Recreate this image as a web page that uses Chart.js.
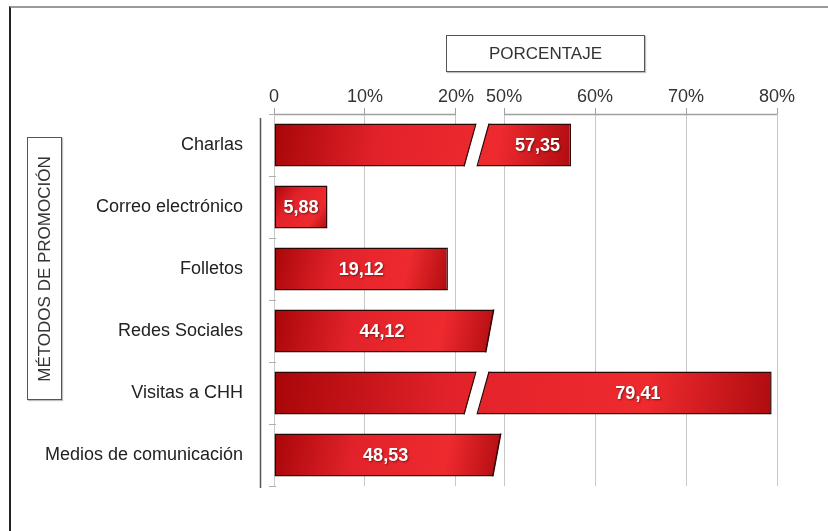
<!DOCTYPE html>
<html>
<head>
<meta charset="utf-8">
<script src="https://cdn.jsdelivr.net/npm/chart.js@4/dist/chart.umd.min.js"></script>
<style>
    html, body { margin: 0; padding: 0; background: #fff; }
    #wrap { position: relative; width: 828px; height: 531px; overflow: hidden; font-family: "Liberation Sans", Arial, sans-serif; }
    #frame { position: absolute; left: 9px; top: 6px; right: 0; bottom: 0; border-top: 2px solid #9a9a9a; border-left: 2px solid #222; }
    canvas { position: absolute; left: 0; top: 0; }
    .box { position: absolute; border: 1.5px solid #555; background: #fff; color: #333; font-size: 17px; box-shadow: 1px 1px 1px rgba(0,0,0,0.25); }
    #xtitle { left: 446px; top: 35px; width: 197px; height: 35px; line-height: 35px; text-align: center; }
    #ytitle { left: 27px; top: 137px; width: 33px; height: 261px; }
    #ytitle span { position: absolute; left: 50%; top: 50%; transform: translate(-50%, -50%) rotate(-90deg); white-space: nowrap; }
</style>
</head>
<body>
<div id="wrap">
    <div id="frame"></div>
    <canvas id="chart" width="828" height="531"></canvas>
    <div class="box" id="xtitle">PORCENTAJE</div>
    <div class="box" id="ytitle"><span>MÉTODOS DE PROMOCIÓN</span></div>
</div>
<script>
const categories = ["Charlas", "Correo electrónico", "Folletos", "Redes Sociales", "Visitas a CHH", "Medios de comunicación"];
const porcentajes = [57.35, 5.88, 19.12, 44.12, 79.41, 48.53];
const tickValues = [0, 10, 20, 50, 60, 70, 80];

// broken axis: 20..50 squeezed into a short gap
const BREAK_LO = 20;
const BREAK_HI = 50;
const GAP_UNITS = 5.3;

function toVirtual(v) {
    if (v <= BREAK_LO) return v;
    if (v <= BREAK_HI) return BREAK_LO + (v - BREAK_LO) * GAP_UNITS / (BREAK_HI - BREAK_LO);
    return BREAK_LO + GAP_UNITS + (v - BREAK_HI);
}
function fromVirtual(u) {
    if (u <= BREAK_LO) return u;
    if (u <= BREAK_LO + GAP_UNITS) return BREAK_LO + (u - BREAK_LO) * (BREAK_HI - BREAK_LO) / GAP_UNITS;
    return BREAK_HI + (u - BREAK_LO - GAP_UNITS);
}

class BrokenLinearScale extends Chart.LinearScale {
    getPixelForValue(value) {
        const lo = toVirtual(this.min);
        const hi = toVirtual(this.max);
        return this.getPixelForDecimal((toVirtual(value) - lo) / (hi - lo));
    }
    getValueForPixel(pixel) {
        const lo = toVirtual(this.min);
        const hi = toVirtual(this.max);
        return fromVirtual(lo + this.getDecimalForPixel(pixel) * (hi - lo));
    }
}
BrokenLinearScale.id = "brokenLinear";
BrokenLinearScale.defaults = {};
Chart.register(BrokenLinearScale);

const FONT = "'Liberation Sans', Arial, sans-serif";

function fmt(v) {
    return v.toFixed(2).replace(".", ",");
}

function barGradient(context) {
    const chart = context.chart;
    if (!chart.chartArea || !chart.scales.x || !chart.scales.y) {
        return "#e0252a";
    }
    const xs = chart.scales.x;
    const ys = chart.scales.y;
    const x0 = xs.getPixelForValue(0);
    const x1 = xs.getPixelForValue(context.raw);
    const yc = ys.getPixelForValue(context.dataIndex);
    const g = chart.ctx.createLinearGradient(x0, yc - 21, x1, yc + 21);
    g.addColorStop(0, "#a80609");
    g.addColorStop(0.35, "#e2222a");
    g.addColorStop(0.75, "#ee2a2e");
    g.addColorStop(1, "#b00c10");
    return g;
}

const barDecor = {
    id: "barDecor",
    afterDatasetsDraw(chart) {
        const ctx = chart.ctx;
        const xs = chart.scales.x;
        const meta = chart.getDatasetMeta(0);
        const p50 = xs.getPixelForValue(BREAK_HI);
        const slashX = (xs.getPixelForValue(BREAK_LO) + p50) / 2 - 10;

        meta.data.forEach(function (bar, i) {
            const v = porcentajes[i];
            const top = bar.y - bar.height / 2;
            const bottom = bar.y + bar.height / 2;
            ctx.save();
            if (v > BREAK_LO && v < BREAK_HI) {
                // slanted end for bars stopping inside the break
                ctx.fillStyle = "#fff";
                ctx.beginPath();
                ctx.moveTo(bar.x + 2, top - 1);
                ctx.lineTo(bar.x + 2, bottom + 2);
                ctx.lineTo(bar.x - 9, bottom + 2);
                ctx.lineTo(bar.x - 1, top + 1);
                ctx.closePath();
                ctx.fill();
                ctx.strokeStyle = "#2a0505";
                ctx.lineWidth = 1.5;
                ctx.beginPath();
                ctx.moveTo(bar.x - 1, top);
                ctx.lineTo(bar.x - 9, bottom);
                ctx.stroke();
            } else if (v >= BREAK_HI) {
                // white slash across bars passing the break
                ctx.fillStyle = "#fff";
                ctx.beginPath();
                ctx.moveTo(slashX + 6, top - 1);
                ctx.lineTo(slashX + 19, top - 1);
                ctx.lineTo(slashX + 7, bottom + 2);
                ctx.lineTo(slashX - 6, bottom + 2);
                ctx.closePath();
                ctx.fill();
                ctx.strokeStyle = "#2a0505";
                ctx.lineWidth = 1.2;
                ctx.beginPath();
                ctx.moveTo(slashX + 6, top);
                ctx.lineTo(slashX - 6, bottom);
                ctx.moveTo(slashX + 19, top);
                ctx.lineTo(slashX + 7, bottom);
                ctx.stroke();
            }
            ctx.restore();

            // value label
            let cx;
            if (v >= BREAK_HI) {
                cx = (p50 + bar.x) / 2;
            } else if (v > BREAK_LO) {
                cx = (bar.base + bar.x - 5) / 2;
            } else {
                cx = (bar.base + bar.x) / 2;
            }
            ctx.save();
            ctx.font = "bold 18px " + FONT;
            ctx.fillStyle = "#fff";
            ctx.textAlign = "center";
            ctx.textBaseline = "middle";
            ctx.shadowColor = "rgba(0,0,0,0.45)";
            ctx.shadowBlur = 2;
            ctx.shadowOffsetX = 1;
            ctx.shadowOffsetY = 1;
            ctx.fillText(fmt(v), cx, bar.y + 1);
            ctx.restore();
        });
    },
    afterDraw(chart) {
        const ctx = chart.ctx;
        const xs = chart.scales.x;
        const ys = chart.scales.y;
        const a = chart.chartArea;
        ctx.save();
        // top axis line, broken between 20% and 50%
        ctx.strokeStyle = "#a0a0a0";
        ctx.lineWidth = 1.5;
        ctx.beginPath();
        ctx.moveTo(xs.getPixelForValue(0), a.top + 0.5);
        ctx.lineTo(xs.getPixelForValue(BREAK_LO), a.top + 0.5);
        ctx.moveTo(xs.getPixelForValue(BREAK_HI), a.top + 0.5);
        ctx.lineTo(xs.getPixelForValue(80), a.top + 0.5);
        ctx.stroke();
        // left category axis
        const ax = a.left - 13.5;
        ctx.strokeStyle = "#555";
        ctx.lineWidth = 1.5;
        ctx.beginPath();
        ctx.moveTo(ax, a.top + 4);
        ctx.lineTo(ax, a.bottom + 2);
        ctx.stroke();
        ctx.strokeStyle = "#b0b0b0";
        ctx.lineWidth = 1;
        for (let i = 0; i <= categories.length; i++) {
            const y = Math.round(ys.getPixelForValue(i - 0.5)) + 0.5;
            ctx.beginPath();
            ctx.moveTo(a.left - 5, y);
            ctx.lineTo(a.left + 2, y);
            ctx.stroke();
        }
        ctx.restore();
    }
};

new Chart(document.getElementById("chart"), {
    type: "bar",
    data: {
        labels: categories,
        datasets: [{
            data: porcentajes,
            backgroundColor: barGradient,
            borderColor: "#2a0505",
            borderWidth: 1.5,
            borderSkipped: false,
            barPercentage: 1,
            categoryPercentage: 0.69
        }]
    },
    options: {
        indexAxis: "y",
        responsive: false,
        animation: false,
        layout: { padding: { left: 0, top: 0, right: 51, bottom: 45 } },
        plugins: {
            legend: { display: false },
            tooltip: { enabled: false }
        },
        scales: {
            x: {
                type: "brokenLinear",
                position: "top",
                min: 0,
                max: 80,
                afterBuildTicks: function (scale) {
                    scale.ticks = tickValues.map(function (v) { return { value: v }; });
                },
                afterFit: function (scale) { scale.height = 114; },
                border: { display: false },
                grid: { color: "#c8c8c8", lineWidth: 1, tickLength: 6, tickColor: "#a0a0a0" },
                ticks: {
                    padding: 0,
                    color: "#333",
                    font: { family: FONT, size: 18 },
                    callback: function (v) { return v === 0 ? "0" : v + "%"; }
                }
            },
            y: {
                afterFit: function (scale) { scale.width = 274; },
                border: { display: false },
                grid: { display: false, drawTicks: false },
                ticks: {
                    padding: 31,
                    color: "#222",
                    font: { family: FONT, size: 18 }
                }
            }
        }
    },
    plugins: [barDecor]
});
</script>
</body>
</html>
